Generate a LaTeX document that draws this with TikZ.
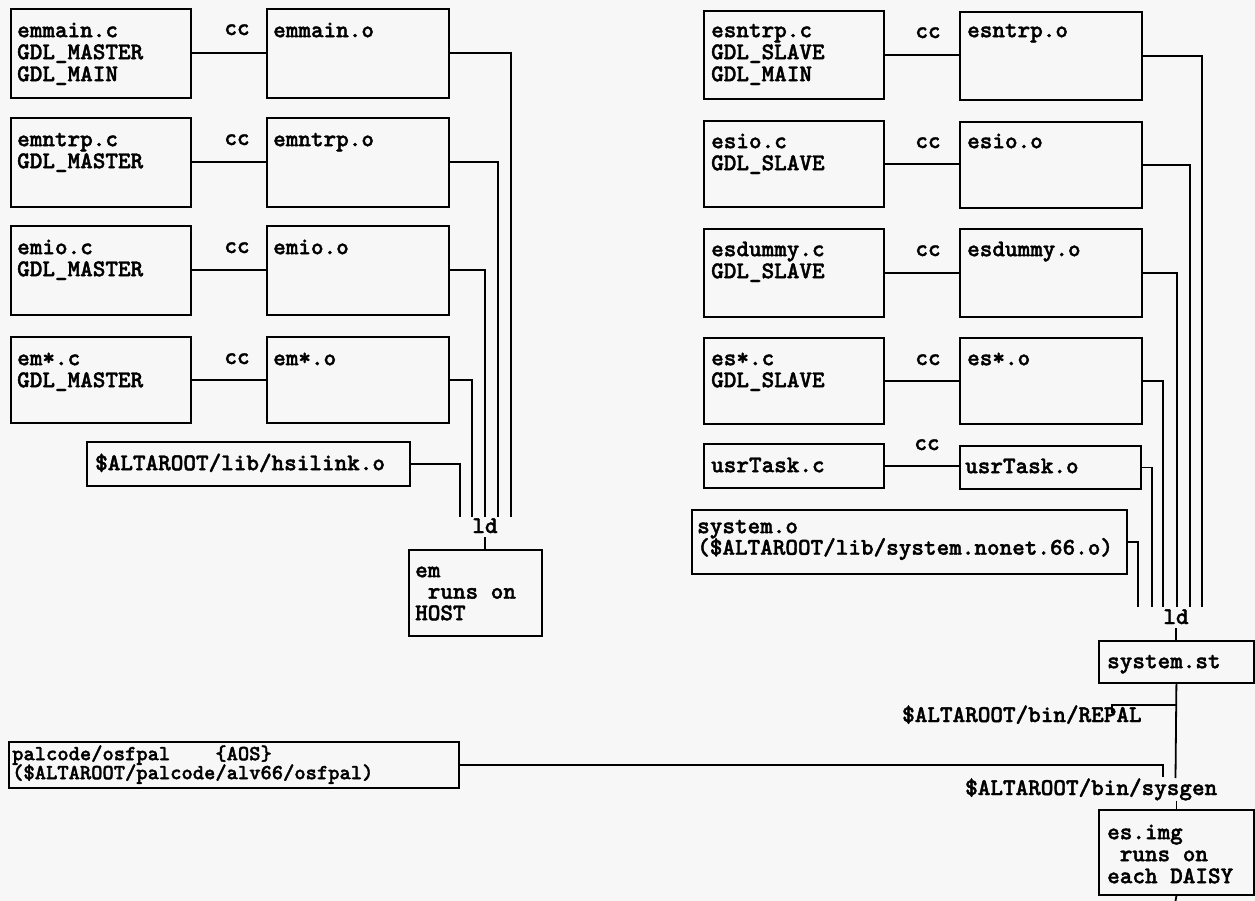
\documentclass[tikz,border=0pt]{standalone}
\usepackage{fontspec}
\usetikzlibrary{calc}
\newfontfamily\cmono{lmmonolt10-bold}[Extension=.otf, FakeBold=1.6]
\newcommand\fsz[3]{\cmono\fontsize{#1}{#2}\selectfont\lineskiplimit=-100pt\relax}
\newcommand\mainfnt{\fsz{24}{22}{}}
\tikzset{
  box/.style={draw, line width=1.8pt, inner sep=0pt, anchor=north west},
  txt/.style={font=\mainfnt, align=left, inner sep=0pt, anchor=north west},
  lbl/.style={font=\mainfnt, inner sep=0pt, anchor=base},
  lblw/.style={font=\mainfnt, inner sep=0pt, anchor=base west},
  wire/.style={line width=1.8pt},
}
\newcommand\bx[5]{\node[box, minimum width=#4pt, minimum height=#5pt] (#1) at (#2,#3) {};}
\newcommand\tx[4]{\node[txt] (#1) at (#2,#3) {\rule{0pt}{20pt}#4};}
\begin{document}
\begin{tikzpicture}[x=1pt,y=-1pt]
\useasboundingbox (0,0) rectangle (1255,901);
\fill[black!3] (0,0) rectangle (1255,901);

% ---------- left column boxes
\bx{emmainc}{10}{8}{180}{89}
\bx{emmaino}{266}{8}{182}{89}
\bx{emntrpc}{10}{117}{180}{89}
\bx{emntrpo}{266}{117}{182}{89}
\bx{emioc}{10}{225}{180}{89}
\bx{emioo}{266}{225}{182}{89}
\bx{emstarc}{10}{336}{180}{86}
\bx{emstaro}{266}{336}{182}{86}
\bx{hsilink}{86}{441}{323}{44}
\bx{emhost}{408}{549}{133}{86}

\tx{temmainc}{17}{17}{emmain.c\\GDL\_MASTER\\GDL\_MAIN}
\tx{temmaino}{273}{17}{emmain.o}
\tx{temntrpc}{17}{126}{emntrp.c\\GDL\_MASTER}
\tx{temntrpo}{273}{126}{emntrp.o}
\tx{temioc}{17}{234}{emio.c\\GDL\_MASTER}
\tx{temioo}{273}{234}{emio.o}
\tx{temstarc}{17}{345}{em*.c\\GDL\_MASTER}
\tx{temstaro}{273}{345}{em*.o}
\tx{thsilink}{95}{450}{\$ALTAROOT/lib/hsilink.o}
\node[txt, font={\fsz{24}{21.5}{}}] (temhost) at (415,557) {\rule{0pt}{20pt}em\\\phantom{r}runs on\\HOST};

\node[lbl] (cc1) at (237,35) {cc};
\node[lbl] (cc2) at (237,145) {cc};
\node[lbl] (cc3) at (237,253) {cc};
\node[lbl] (cc4) at (237,364) {cc};
\node[lbl, inner sep=4pt] (ldL) at (485,533) {ld};

\draw[wire] (emmainc.east) -- (emmainc.east -| emmaino.west);
\draw[wire] (emntrpc.east) -- (emntrpc.east -| emntrpo.west);
\draw[wire] (emioc.east) -- (emioc.east -| emioo.west);
\draw[wire] (emstarc.east) -- (emstarc.east -| emstaro.west);

\coordinate (vL0) at (460,517);
\coordinate (vL1) at (472,517);
\coordinate (vL2) at (485,517);
\coordinate (vL3) at (498,517);
\coordinate (vL4) at (511,517);
\draw[wire] (hsilink.east) -| (vL0);
\draw[wire] (emstaro.east) -| (vL1);
\draw[wire] (emioo.east) -| (vL2);
\draw[wire] (emntrpo.east) -| (vL3);
\draw[wire] (emmaino.east) -| (vL4);
\draw[wire] (ldL.south) -- (ldL.south |- emhost.north);

% ---------- right column boxes
\bx{esntrpc}{703}{10}{180}{88}
\bx{esntrpo}{959}{11}{182}{88}
\bx{esioc}{703}{120}{180}{86}
\bx{esioo}{959}{121}{182}{86}
\bx{esdummyc}{703}{228}{180}{88}
\bx{esdummyo}{959}{228}{182}{88}
\bx{esstarc}{703}{337}{180}{86}
\bx{esstaro}{959}{337}{182}{86}
\bx{usrtaskc}{703}{443}{180}{44}
\bx{usrtasko}{959}{445}{181}{43}
\bx{systemo}{691}{509}{435}{64}
\bx{sysst}{1098}{640}{155}{42}
\bx{palcode}{8}{741}{450}{46}
\bx{esimg}{1098}{809}{155}{85}

\tx{tesntrpc}{711}{17}{esntrp.c\\GDL\_SLAVE\\GDL\_MAIN}
\tx{tesntrpo}{967}{17}{esntrp.o}
\tx{tesioc}{711}{128}{esio.c\\GDL\_SLAVE}
\tx{tesioo}{967}{128}{esio.o}
\tx{tesdummyc}{711}{236}{esdummy.c\\GDL\_SLAVE}
\tx{tesdummyo}{967}{236}{esdummy.o}
\tx{tesstarc}{711}{345}{es*.c\\GDL\_SLAVE}
\tx{tesstaro}{967}{345}{es*.o}
\tx{tusrtaskc}{711}{452}{usrTask.c}
\tx{tusrtasko}{965}{453}{usrTask.o}
\node[txt, font={\fsz{24}{21.5}{}}] (tsystemo) at (697,513) {\rule{0pt}{20pt}system.o\\(\$ALTAROOT/lib/system.nonet.66.o)};
\tx{tsysst}{1107}{648}{system.st}
\node[txt, font={\fsz{24}{22}{}}] (tesimg) at (1107,819) {\rule{0pt}{20pt}es.img\\\phantom{r}runs on\\each DAISY};
\node[txt, font={\fsz{21.5}{19}{}}] (tpalcode) at (12,740) {\rule{0pt}{20pt}palcode/osfpal\phantom{xxxx}\{AOS\}\\(\$ALTAROOT/palcode/alv66/osfpal)};

\node[lbl] (cc5) at (928,38) {cc};
\node[lbl] (cc6) at (928,148) {cc};
\node[lbl] (cc7) at (928,256) {cc};
\node[lbl] (cc8) at (928,365) {cc};
\node[lbl] (cc9) at (927,450) {cc};
\node[lbl, inner sep=4pt] (ldR) at (1176,624) {ld};
\node[lblw] (repal) at (902,722) {\$ALTAROOT/bin/REPAL};
\node[lblw] (sysgen) at (965,795) {\$ALTAROOT/bin/sysgen};

\draw[wire] (esntrpc.east) -- (esntrpc.east -| esntrpo.west);
\draw[wire] (esioc.east) -- (esioc.east -| esioo.west);
\draw[wire] (esdummyc.east) -- (esdummyc.east -| esdummyo.west);
\draw[wire] (esstarc.east) -- (esstarc.east -| esstaro.west);
\draw[wire] (usrtaskc.east) -- (usrtaskc.east -| usrtasko.west);

\coordinate (vR0) at (1138,607);
\coordinate (vR1) at (1152,607);
\coordinate (vR2) at (1163,607);
\coordinate (vR3) at (1177,607);
\coordinate (vR4) at (1190,607);
\coordinate (vR5) at (1202,607);
\draw[wire] (systemo.east) -| (vR0);
\draw[wire] (usrtasko.east) -| (vR1);
\draw[wire] (esstaro.east) -| (vR2);
\draw[wire] (esdummyo.east) -| (vR3);
\draw[wire] (esioo.east) -| (vR4);
\draw[wire] (esntrpo.east) -| (vR5);
\draw[wire] (ldR.south) -- (ldR.south |- sysst.north);

\coordinate (mainEnd) at (1175.5,778);
\coordinate (jR) at (1175.5,705);
\coordinate (repalTop) at (1112,713);
\coordinate (palEnd) at (1163,777);
\coordinate (imgEnd) at (1175.5,901);
\draw[wire] (sysst.south) -- (mainEnd);
\draw[wire] (jR) -| (repalTop);
\draw[wire] (palcode.east) -| (palEnd);
\draw[wire] (esimg.north |- sysgen.south) -- (esimg.north);
\draw[wire] (esimg.south) -- (imgEnd);
\end{tikzpicture}
\end{document}
